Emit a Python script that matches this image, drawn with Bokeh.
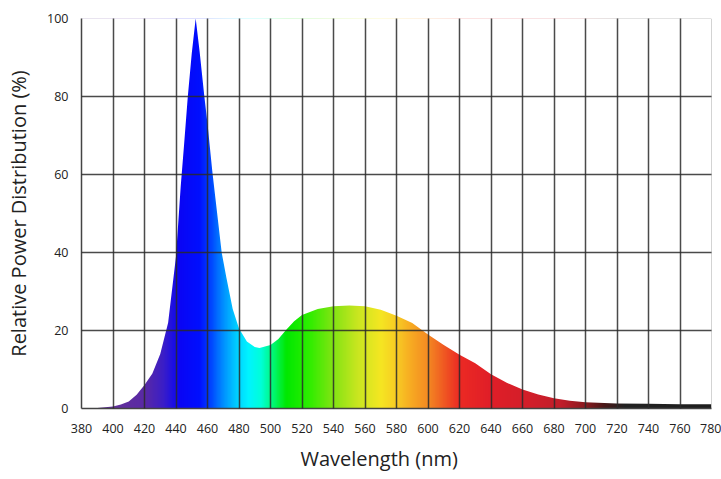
import numpy as np
from bokeh.plotting import figure
from bokeh.models import Range1d, FixedTicker, Title
from bokeh.embed import file_html
from bokeh.resources import INLINE

# ---- data ----
wavelength = [380, 390, 400, 405, 410, 415, 420, 425, 430, 435, 440, 443, 445, 447.5, 450,
              452.5, 455, 458, 460, 463, 465, 469, 472, 476, 480, 485, 490, 493, 500, 505,
              510, 515, 520, 530, 540, 550, 560, 570, 580, 590, 600, 610, 620, 630, 640,
              650, 660, 670, 680, 690, 700, 720, 740, 760, 780]
power = [0, 0.1, 0.5, 1.0, 1.8, 3.5, 6, 9, 14, 22, 39, 57, 67, 80, 91,
         100, 91.5, 80, 73, 61, 54, 40, 33.5, 25.5, 20.5, 17.2, 15.8, 15.5, 16.3, 17.8,
         20.2, 22.4, 24.0, 25.5, 26.2, 26.4, 26.2, 25.3, 23.8, 21.9, 19.0, 16.3, 13.8, 11.6,
         8.8, 6.6, 4.9, 3.6, 2.6, 2.0, 1.6, 1.3, 1.2, 1.1, 1.1]

x_ticks = [380, 400, 420, 440, 460, 480, 500, 520, 540, 560, 580, 600, 620, 640, 660,
           680, 700, 720, 740, 760, 780]
y_ticks = [0, 20, 40, 60, 80, 100]

# colour stops of the spectral fill (styling)
stop_wl = [380, 400, 420, 432, 442, 455, 462, 470, 478, 486, 494, 502, 510, 525, 540,
           555, 570, 580, 590, 600, 610, 620, 640, 665, 685, 700, 712, 725, 780]
stop_col = ["#4a2878", "#62309a", "#5a2aa6", "#3a1ec8", "#0a05f5", "#0010ff", "#0045ff",
            "#0090ff", "#00ccff", "#00f4ff", "#00ffd8", "#00f870", "#00e800", "#30ee00",
            "#84e414", "#c8e620", "#f5e622", "#f8cc24", "#f7a822", "#f48a22", "#f05a22",
            "#ec2a24", "#e01e28", "#d21e2a", "#c01e2a", "#8a1a20", "#4a1818", "#222222",
            "#1e1e1e"]

x0, x1 = x_ticks[0], x_ticks[-1]
y0, y1 = y_ticks[0], y_ticks[-1]

p = figure(width=721, height=479, output_backend="svg", toolbar_location=None,
           x_range=Range1d(x0, x1), y_range=Range1d(y0, y1),
           min_border_left=81, min_border_right=10, min_border_top=18, min_border_bottom=71)
p.outline_line_color = None
p.background_fill_color = "white"
p.border_fill_color = "white"

# gradient image spanning the whole frame
n = 800
wl_grid = np.linspace(x0, x1, n)
rgb = np.array([[int(c[i:i + 2], 16) for i in (1, 3, 5)] for c in stop_col], dtype=float)
img = np.empty((1, n), dtype=np.uint32)
view = img.view(dtype=np.uint8).reshape((1, n, 4))
for k in range(3):
    view[0, :, k] = np.interp(wl_grid, stop_wl, rgb[:, k]).astype(np.uint8)
view[0, :, 3] = 255
p.image_rgba(image=[img], x=x0, y=y0, dw=x1 - x0, dh=y1 - y0)

# white mask above the spectrum curve
mask_x = [x0] + wavelength + [x1]
mask_y = [y1 + 5] + power + [y1 + 5]
p.patch(mask_x, mask_y, fill_color="white", line_color=None)

# grid above the fill
p.xgrid.ticker = FixedTicker(ticks=x_ticks)
p.ygrid.ticker = FixedTicker(ticks=y_ticks)
p.grid.grid_line_color = "#2a2a2a"
p.grid.grid_line_width = 1.5
p.grid.grid_line_alpha = 0.85
p.grid.level = "overlay"

for ax in (p.xaxis, p.yaxis):
    ax.major_tick_line_color = None
    ax.minor_tick_line_color = None
    ax.major_tick_in = 0
    ax.major_tick_out = 0
    ax.minor_tick_in = 0
    ax.minor_tick_out = 0
    ax.major_label_text_font = "Open Sans"
    ax.major_label_text_font_size = "12.5px"
    ax.major_label_text_color = "#222222"
    ax.axis_line_color = "#444444"
    ax.axis_line_width = 1.5

p.xaxis.ticker = FixedTicker(ticks=x_ticks)
p.yaxis.ticker = FixedTicker(ticks=y_ticks)
p.xaxis.major_label_standoff = 15
p.yaxis.major_label_standoff = 13

p.yaxis.axis_label = "Relative Power Distribution (%)"
p.yaxis.axis_label_text_font = "Open Sans"
p.yaxis.axis_label_text_font_size = "20px"
p.yaxis.axis_label_text_font_style = "normal"
p.yaxis.axis_label_text_color = "#222222"
p.yaxis.axis_label_standoff = 12

p.add_layout(Title(text="Wavelength (nm)", align="left", offset=219, standoff=15,
                   text_font="Open Sans", text_font_size="20px",
                   text_font_style="normal", text_color="#222222"), "below")

open("out.html", "w").write(file_html(p, INLINE))
